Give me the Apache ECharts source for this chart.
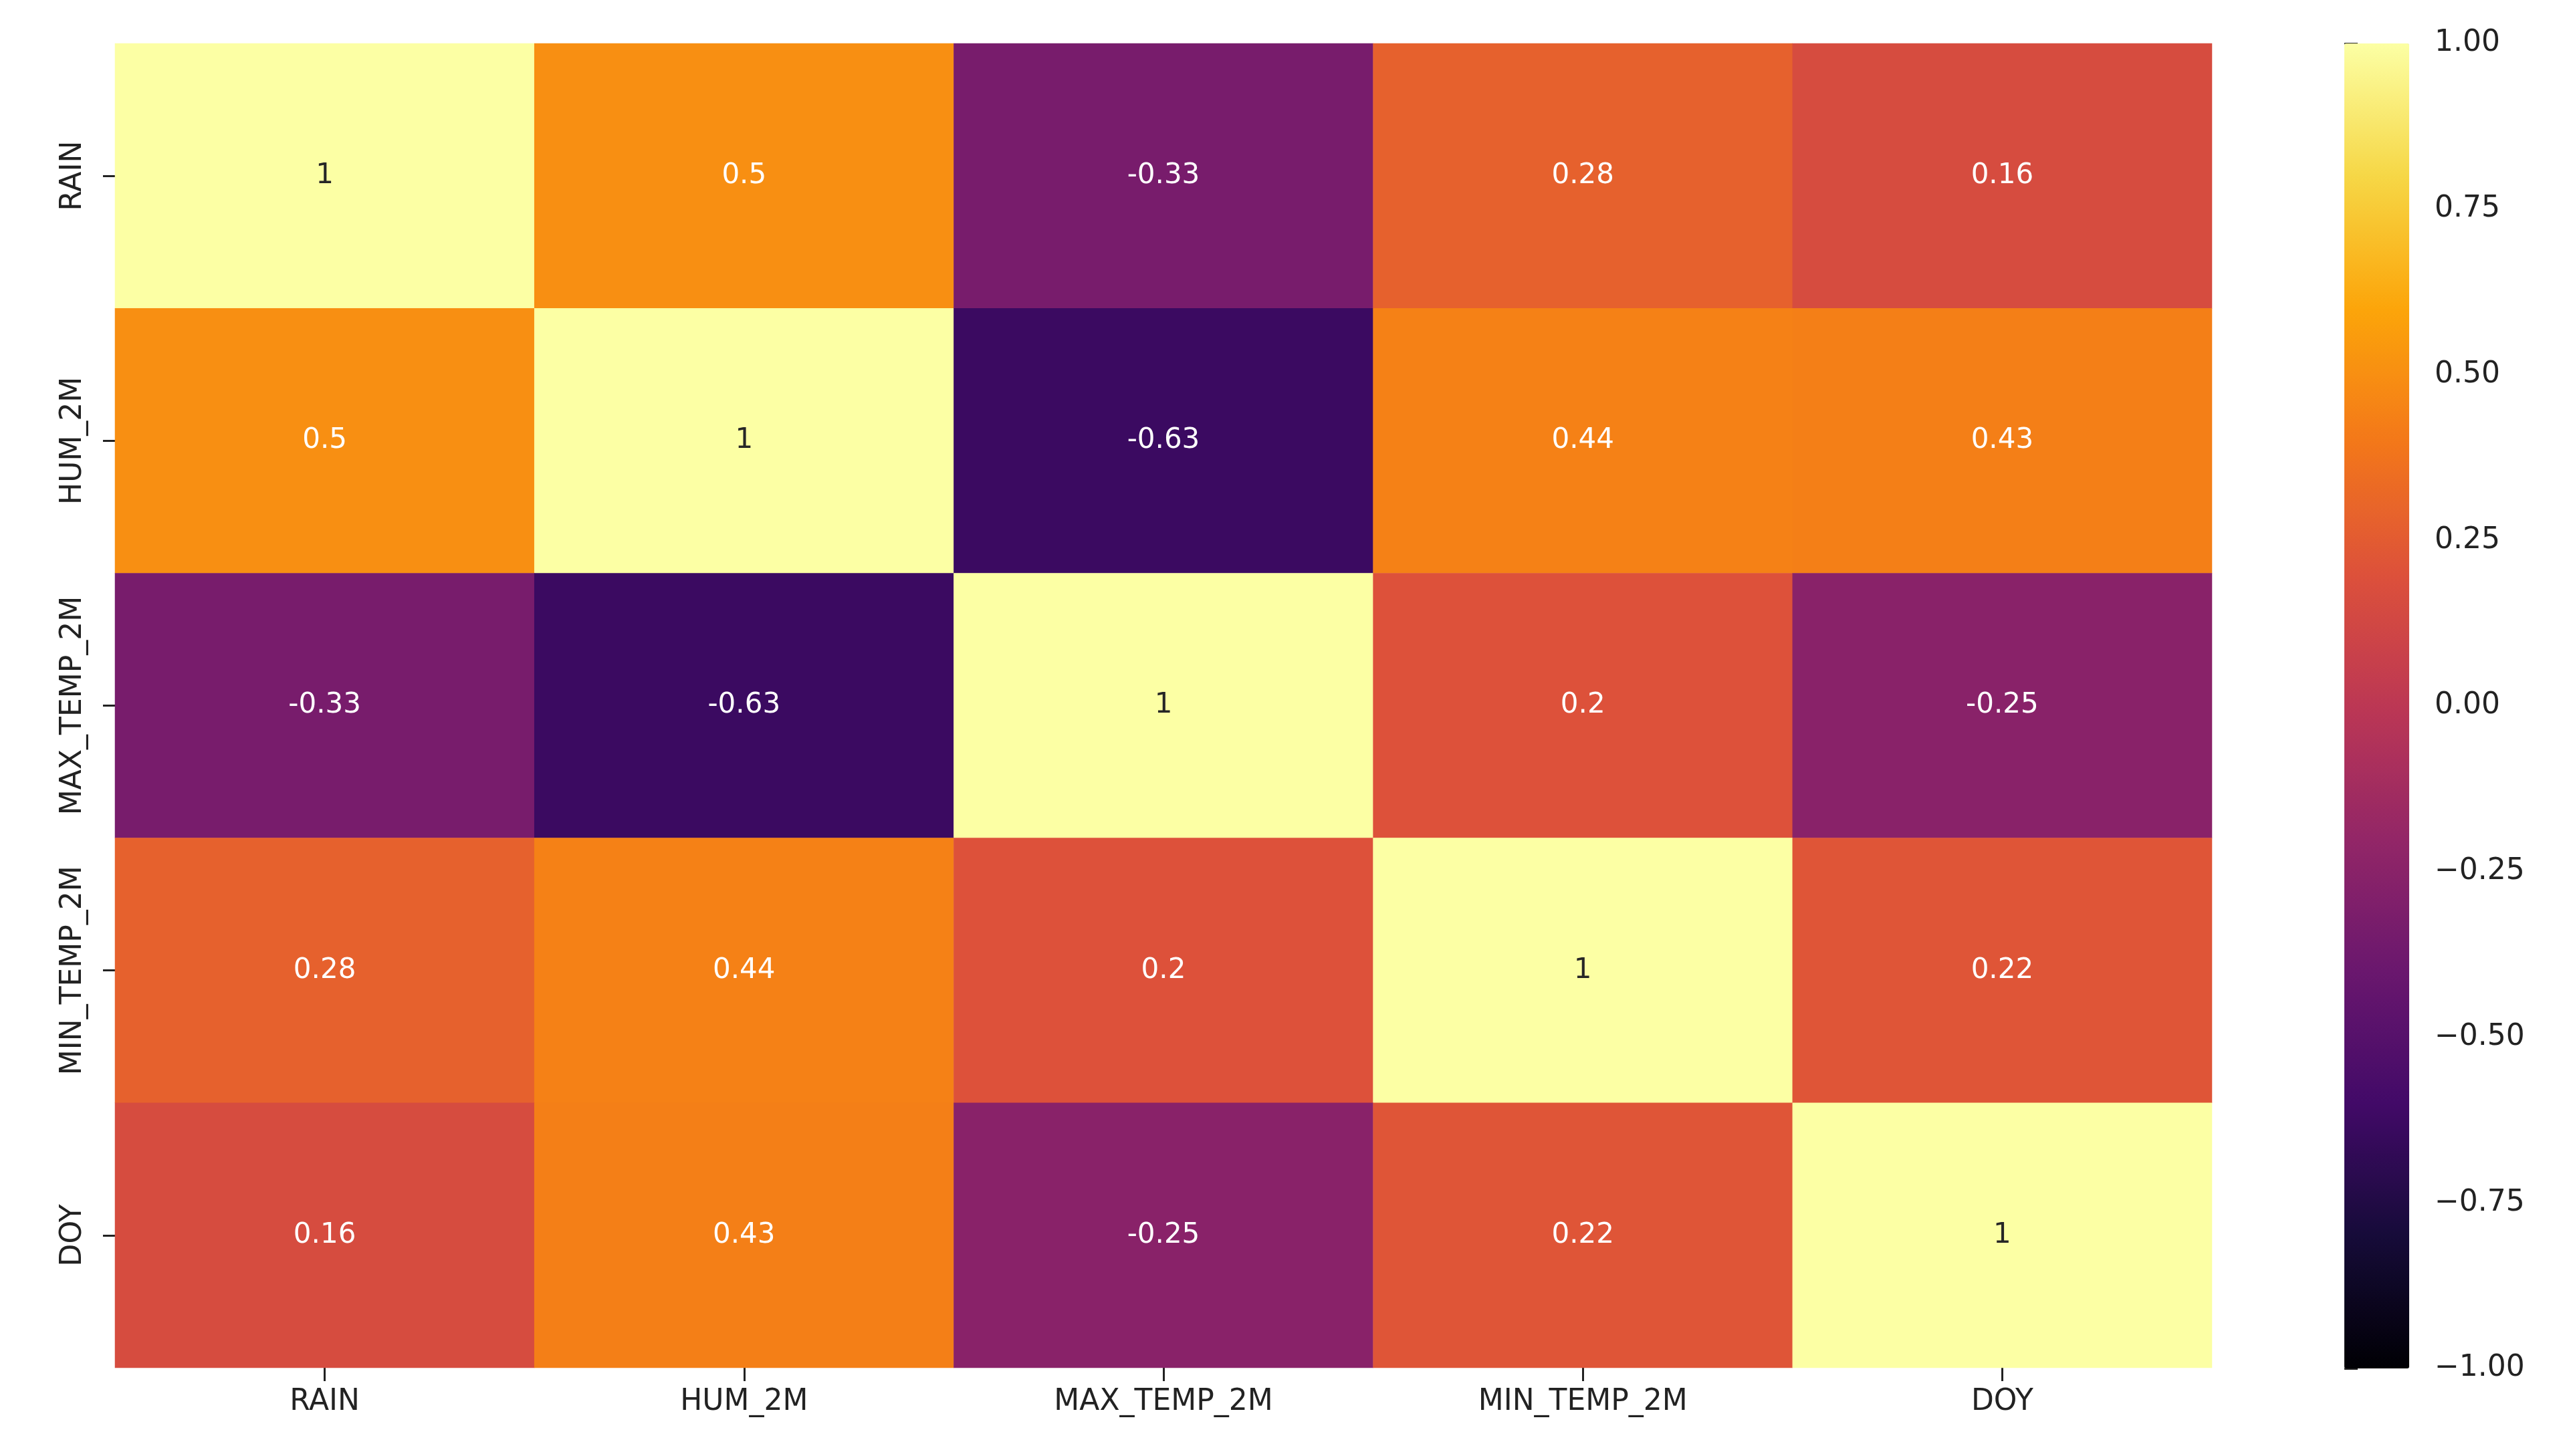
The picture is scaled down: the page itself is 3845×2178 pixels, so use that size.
<!DOCTYPE html>
<html>
<head>
<meta charset="utf-8">
<script src="https://cdn.jsdelivr.net/npm/echarts@6/dist/echarts.min.js"></script>
<style>
html,body{margin:0;padding:0;background:#fff;}
#chart{width:3845px;height:2178px;}
</style>
</head>
<body>
<div id="chart"></div>
<script>
// ---- data ----
const xCategories = ['RAIN', 'HUM_2M', 'MAX_TEMP_2M', 'MIN_TEMP_2M', 'DOY'];
const yCategories = ['RAIN', 'HUM_2M', 'MAX_TEMP_2M', 'MIN_TEMP_2M', 'DOY'];
const rowRAIN   = [1, 0.5, -0.33, 0.28, 0.16];
const rowHUM    = [0.5, 1, -0.63, 0.44, 0.43];
const rowMAXT   = [-0.33, -0.63, 1, 0.2, -0.25];
const rowMINT   = [0.28, 0.44, 0.2, 1, 0.22];
const rowDOY    = [0.16, 0.43, -0.25, 0.22, 1];
const colorbarMin = -1;
const colorbarMax = 1;
const colorbarStep = 0.25;

// ---- build ----
const rows = [rowRAIN, rowHUM, rowMAXT, rowMINT, rowDOY];
const inferno = ['#000004','#160b39','#420a68','#6a176e','#932667','#bc3754','#dd513a','#f37819','#fca50a','#f6d746','#fcffa4'];
const FONT = '"DejaVu Sans", sans-serif';
const data = [];
rows.forEach((row, yi) => {
  row.forEach((v, xi) => {
    data.push({
      value: [xi, yi, v],
      label: { color: v > 0.8 ? '#262626' : '#ffffff' }
    });
  });
});

const chart = echarts.init(document.getElementById('chart'), null, {renderer: 'canvas'});
chart.setOption({
  backgroundColor: '#ffffff',
  animation: false,
  grid: [
    {left: 172, top: 65, width: 3136, height: 1981},
    {left: 3506, top: 65, width: 97, height: 1982}
  ],
  xAxis: [
    {
      type: 'category', gridIndex: 0, data: xCategories,
      axisLine: {show: false},
      axisTick: {show: true, alignWithLabel: true, interval: 0, length: 20, lineStyle: {color: '#222', width: 3}},
      axisLabel: {fontFamily: FONT, fontSize: 44, color: '#222', margin: 30, interval: 0},
      splitLine: {show: false}
    },
    {type: 'value', gridIndex: 1, min: 0, max: 1, show: false}
  ],
  yAxis: [
    {
      type: 'category', gridIndex: 0, data: yCategories, inverse: true,
      axisLine: {show: false},
      axisTick: {show: true, alignWithLabel: true, interval: 0, length: 18, lineStyle: {color: '#222', width: 3}},
      axisLabel: {fontFamily: FONT, fontSize: 44, color: '#222', rotate: 90, margin: 40, interval: 0},
      splitLine: {show: false}
    },
    {
      type: 'value', gridIndex: 1, position: 'right',
      min: colorbarMin, max: colorbarMax, interval: colorbarStep,
      axisLine: {show: false},
      axisTick: {show: true, length: 20, lineStyle: {color: '#222', width: 3}},
      axisLabel: {
        fontFamily: FONT, fontSize: 44, color: '#222', margin: 38,
        formatter: v => v.toFixed(2).replace('-', '\u2212')
      },
      splitLine: {show: false}
    }
  ],
  visualMap: {
    type: 'continuous',
    seriesIndex: 0,
    min: colorbarMin, max: colorbarMax,
    calculable: false,
    hoverLink: false,
    itemWidth: 97,
    itemHeight: 1982,
    left: 3506,
    top: 65,
    padding: 0,
    text: null,
    showLabel: false,
    indicatorSize: 0,
    handleSize: 0,
    inRange: {color: inferno}
  },
  series: [{
    type: 'heatmap',
    xAxisIndex: 0, yAxisIndex: 0,
    data: data,
    label: {
      show: true, fontFamily: FONT, fontSize: 42,
      formatter: p => String(p.value[2])
    },
    itemStyle: {borderWidth: 0},
    emphasis: {disabled: true}
  }]
});
</script>
</body>
</html>
